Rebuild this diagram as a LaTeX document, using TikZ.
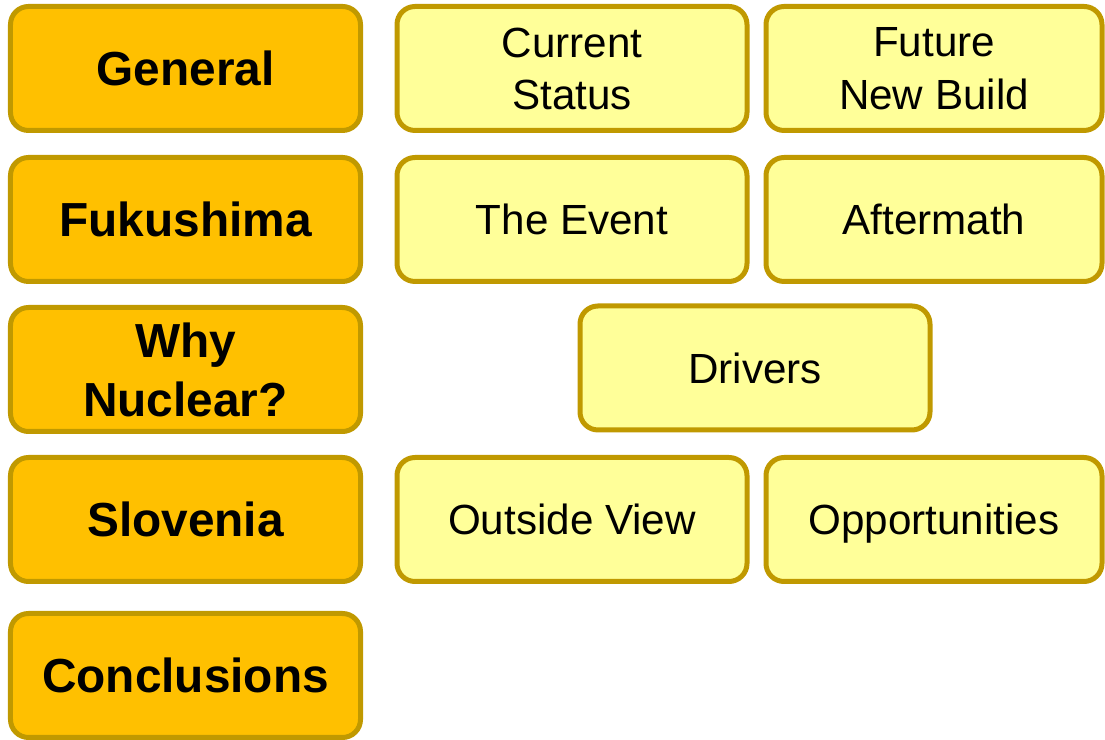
\documentclass[tikz,border=0pt]{standalone}
\usepackage{fontspec}
\setmainfont{Liberation Sans}
\definecolor{topicfill}{HTML}{FFC000}
\definecolor{subfill}{HTML}{FFFF99}
\definecolor{boxline}{HTML}{C09900}

\begin{document}
\begin{tikzpicture}[
  topic/.style={
    rectangle,
    rounded corners=0.18cm,
    draw=boxline,
    line width=0.05cm,
    fill=topicfill,
    minimum width=3.5cm,
    minimum height=1.24cm,
    align=center,
    text depth=0pt,
    font=\fontsize{13.6}{16.8}\selectfont\bfseries
  },
  sub/.style={
    topic,
    fill=subfill,
    font=\fontsize{12}{14.8}\selectfont
  }
]
  \useasboundingbox (0,0) rectangle (11.05,-7.40);
  % left column: the topics
  \node[topic] (general) at (1.855,-0.685) {General};
  \node[topic] (fukushima) at (1.855,-2.195) {Fukushima};
  \node[topic] (why) at (1.855,-3.695) {Why\\Nuclear?};
  \node[topic] (slovenia) at (1.855,-5.195) {Slovenia};
  \node[topic] (conclusions) at (1.855,-6.755) {Conclusions};
  % sub-topics beside them
  \node[sub] (status) at (5.72,-0.685) {Current\\Status};
  \node[sub,minimum width=3.36cm] (newbuild) at (9.34,-0.685) {Future\\New Build};
  \node[sub] (event) at (5.72,-2.195) {The Event};
  \node[sub,minimum width=3.36cm] (aftermath) at (9.34,-2.195) {Aftermath};
  \node[sub] (drivers) at (7.55,-3.68) {Drivers};
  \node[sub] (outside) at (5.72,-5.195) {Outside View};
  \node[sub,minimum width=3.36cm] (chances) at (9.34,-5.195) {Opportunities};
\end{tikzpicture}
\end{document}
